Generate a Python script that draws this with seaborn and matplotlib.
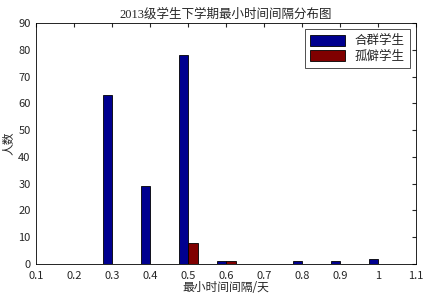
import seaborn as sns
import matplotlib.pyplot as plt
import pandas as pd

# 数据
intervals = [0.3, 0.4, 0.5, 0.6, 0.7, 0.8, 0.9, 1.0]
group_names = ['合群学生', '孤僻学生']
sociable = [63, 29, 78, 1, 0, 1, 1, 2]
solitary = [0, 0, 8, 1, 0, 0, 0, 0]

data = pd.DataFrame({
    'interval': intervals * 2,
    'count': sociable + solitary,
    'group': [group_names[0]] * len(intervals) + [group_names[1]] * len(intervals),
})

sns.set_style("white")
plt.rcParams['font.family'] = ['Noto Sans CJK SC', 'DejaVu Sans']

fig = plt.figure(figsize=(4.25, 2.93), dpi=100)
ax = fig.add_axes([0.085, 0.099, 0.894, 0.822])

sns.barplot(data=data, x='interval', y='count', hue='group', native_scale=True,
            palette=['#00008F', '#800000'], saturation=1, width=0.5,
            edgecolor='black', linewidth=0.6, ax=ax)

ax.set_xlim(0.1, 1.1)
ax.set_ylim(0, 90)
ax.set_xticks([0.1, 0.2, 0.3, 0.4, 0.5, 0.6, 0.7, 0.8, 0.9, 1.0, 1.1])
ax.set_xticklabels(['0.1', '0.2', '0.3', '0.4', '0.5', '0.6', '0.7', '0.8', '0.9', '1', '1.1'])
ax.set_yticks(range(0, 91, 10))
ax.tick_params(direction='in', length=3, labelsize=8, top=True, right=True, pad=4)
ax.tick_params(axis='x', pad=5)
for s in ax.spines.values():
    s.set_linewidth(0.6)
    s.set_color('black')

ax.set_title('2013级学生下学期最小时间间隔分布图', fontsize=9,
             family=['Liberation Serif', 'Noto Sans CJK SC'], pad=4)
ax.set_xlabel('最小时间间隔/天', fontsize=8.5, labelpad=0)
ax.set_ylabel('人数', fontsize=8.5, labelpad=2,
              family=['Liberation Serif', 'Noto Sans CJK SC'])

leg = ax.legend(loc='upper right', fontsize=9, frameon=True, fancybox=False,
                edgecolor='black', handlelength=2.8, handleheight=1.0,
                borderaxespad=0.5, labelspacing=0.2)
leg.get_frame().set_linewidth(0.6)
leg.set_title(None)

fig.savefig('out.png', dpi=100)
